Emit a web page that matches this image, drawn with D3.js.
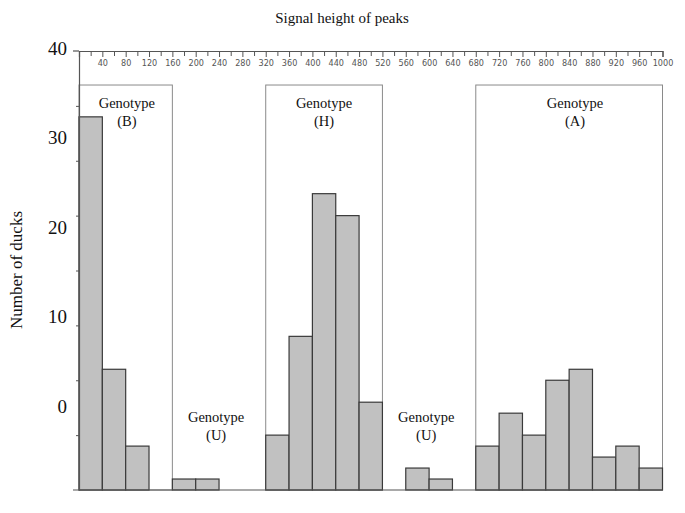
<!DOCTYPE html>
<html><head><meta charset="utf-8">
<script src="https://cdn.jsdelivr.net/npm/d3@7"></script>
<style>
body{margin:0;background:#fff;}
svg{display:block;}
</style></head>
<body>
<svg id="c" width="685" height="513"></svg>
<script>
// ---- data ----
const binStarts = [0,40,80, 160,200, 320,360,400,440,480, 560,600, 680,720,760,800,840,880,920,960];
const counts    = [34,11,4, 1,1, 5,14,27,25,8, 2,1, 4,7,5,10,11,3,4,2];
const binWidth = 40;
const genotypeBoxes = [ {x0:0,x1:160}, {x0:320,x1:520}, {x0:680,x1:1000} ];
const genotypeNames = ["Genotype","Genotype","Genotype","Genotype","Genotype"];
const genotypeCodes = ["(B)","(H)","(A)","(U)","(U)"];
const genotypeLabelX = [82, 420, 850, 235, 595];
const genotypeLabelRow = ["top","top","top","low","low"];
const yTickLabels = [0,10,20,30,40];
const xTitle = "Signal height of peaks";
const yTitle = "Number of ducks";

// ---- layout ----
const svg = d3.select("#c");
const x = d3.scaleLinear().domain([0,1000]).range([79,662.5]);
const y = d3.scaleLinear().domain([0,40]).range([490,51]);
// tick labels in the original are drawn offset from the tick marks
const yLab = d3.scaleLinear().domain([0,40]).range([406,48]);
const boxTop = 36.9;
const serif = "'Liberation Serif','Times New Roman',serif";

// genotype boxes
svg.append("g").selectAll("rect").data(genotypeBoxes).join("rect")
  .attr("x", d=>x(d.x0)).attr("y", y(boxTop))
  .attr("width", d=>x(d.x1)-x(d.x0)).attr("height", y(0)-y(boxTop))
  .attr("fill","none").attr("stroke","#8a8a8a").attr("stroke-width",1);

// bars
svg.append("g").selectAll("rect").data(binStarts).join("rect")
  .attr("x", (d)=>x(d)).attr("width", x(binWidth)-x(0))
  .attr("y", (d,i)=>y(counts[i])).attr("height",(d,i)=>y(0)-y(counts[i]))
  .attr("fill","#c1c1c1").attr("stroke","#3a3a3a").attr("stroke-width",1.2);

// top axis
const topAxis = d3.axisBottom(x)
  .tickValues(d3.range(20,1001,20))
  .tickSizeOuter(0).tickSize(6).tickPadding(3)
  .tickFormat(v => v%40===0 ? v : "");
const gTop = svg.append("g").attr("transform","translate(0,51)").call(topAxis);
gTop.select(".domain").attr("stroke","#555").attr("stroke-width",1.2);
gTop.selectAll(".tick line").attr("stroke","#555").attr("stroke-width",1)
  .attr("y2", d=> d%40===0 ? 6 : 5);
gTop.selectAll(".tick text").attr("fill","#555")
  .style("font-family","'Liberation Sans Narrow','DejaVu Sans Condensed',Arial,sans-serif")
  .style("font-size","9px");
gTop.append("line").attr("x1",73).attr("x2",79).attr("stroke","#555").attr("stroke-width",1.2);

// baseline
svg.append("line").attr("x1",73).attr("x2",x(1000)).attr("y1",y(0)).attr("y2",y(0))
  .attr("stroke","#555").attr("stroke-width",1.2);

// left axis (ticks only)
const leftAxis = d3.axisLeft(y).tickValues(d3.range(5,40,5)).tickSize(3).tickSizeOuter(0).tickFormat("");
const gLeft = svg.append("g").attr("transform","translate(79,0)").call(leftAxis);
gLeft.select(".domain").attr("stroke","#555").attr("stroke-width",1.2);
gLeft.selectAll(".tick line").attr("stroke","#555");

// y tick labels
svg.append("g").selectAll("text").data(yTickLabels).join("text")
  .attr("x",67).attr("y",d=>yLab(d)).attr("dy","0.35em")
  .attr("text-anchor","end").style("font-family",serif).style("font-size","19px")
  .attr("fill","#111").text(d=>d);

// titles
svg.append("text").attr("x",342).attr("y",23).attr("text-anchor","middle")
  .style("font-family",serif).style("font-size","15px").attr("fill","#111").text(xTitle);
svg.append("text").attr("transform","translate(22,270) rotate(-90)").attr("text-anchor","middle")
  .style("font-family",serif).style("font-size","17px").attr("fill","#111").text(yTitle);

// genotype labels
const gl = svg.append("g").selectAll("text").data(genotypeLabelX).join("text")
  .attr("x", d=>x(d)).attr("y",(d,i)=>genotypeLabelRow[i]==="top"?103:417)
  .attr("text-anchor","middle").style("font-family",serif).style("font-size","14.5px").attr("fill","#111");
gl.append("tspan").attr("x",d=>x(d)).attr("dy","0.35em").text((d,i)=>genotypeNames[i]);
gl.append("tspan").attr("x",d=>x(d)).attr("dy","1.25em").text((d,i)=>genotypeCodes[i]);
</script>
</body></html>
